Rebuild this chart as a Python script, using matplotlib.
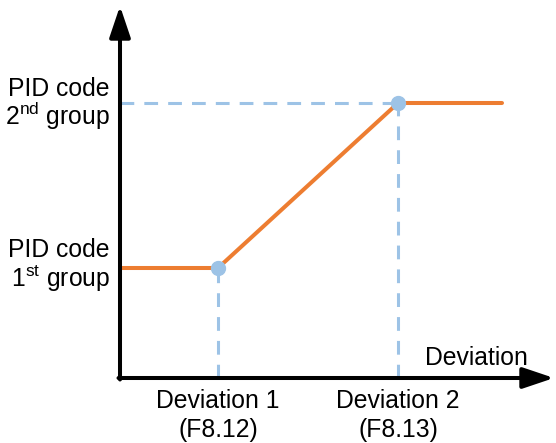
import matplotlib
matplotlib.use("Agg")
import matplotlib.pyplot as plt

plt.rcParams['font.family'] = ['Liberation Sans', 'DejaVu Sans']
plt.rcParams['mathtext.fontset'] = 'custom'
plt.rcParams['mathtext.rm'] = 'Liberation Sans'

# Data (deviation vs PID code output, in chart units from origin)
curve_x = [0, 98, 278, 382]
curve_y = [110, 110, 275, 275]
points_x = [98, 278]
points_y = [110, 275]
x_tick_labels = [("Deviation 1", "(F8.12)"), ("Deviation 2", "(F8.13)")]
y_tick_labels = [("PID code", "1$^{\\mathrm{st}}$ group"), ("PID code", "2$^{\\mathrm{nd}}$ group")]
x_axis_label = "Deviation"

W, H = 556, 443
fig = plt.figure(figsize=(W / 100, H / 100), dpi=100)
ox, oy = 120, 378
ax = fig.add_axes([ox / W, (H - oy) / H, (W - ox) / W, (oy) / H])
ax.set_xlim(0, W - ox)
ax.set_ylim(0, oy)
ax.axis('off')

blue = '#9dc3e6'
orange = '#ed7d31'
dash = (4.5, 3.3)

# dashed guides
for px, py in zip(points_x, points_y):
    ax.plot([px, px], [0, py], color=blue, lw=2.2, dashes=dash, zorder=2)
ax.plot([0, points_x[1]], [points_y[1], points_y[1]], color=blue, lw=2.2, dashes=dash, zorder=2)

# curve
ax.plot(curve_x, curve_y, color=orange, lw=2.9, solid_capstyle='round', zorder=3)
ax.plot(points_x, points_y, 'o', color=blue, ms=10, zorder=4)

# axes arrows
ap = dict(arrowstyle='-|>,head_length=0.95,head_width=0.32', color='black', lw=2.9,
          mutation_scale=20, shrinkA=0, shrinkB=0)
ax.annotate('', xy=(W - ox - 2, 0), xytext=(-1.5, 0), arrowprops=ap, annotation_clip=False)
ax.annotate('', xy=(0, oy - 6), xytext=(0, -1.5), arrowprops=ap, annotation_clip=False)

fs = 17.8
for px, (l1, l2) in zip(points_x, x_tick_labels):
    ax.text(px, -30, l1, ha='center', va='baseline', fontsize=fs)
    ax.text(px, -59, l2, ha='center', va='baseline', fontsize=fs)
y_offsets = [(11, -19), (7, -22)]
for py, (l1, l2), (o1, o2) in zip(points_y, y_tick_labels, y_offsets):
    ax.text(-10, py + o1, l1, ha='right', va='baseline', fontsize=fs)
    ax.text(-10, py + o2, l2, ha='right', va='baseline', fontsize=fs)
ax.text(W - ox - 28, 13, x_axis_label, ha='right', va='baseline', fontsize=fs)

fig.savefig('out.png', dpi=100)
